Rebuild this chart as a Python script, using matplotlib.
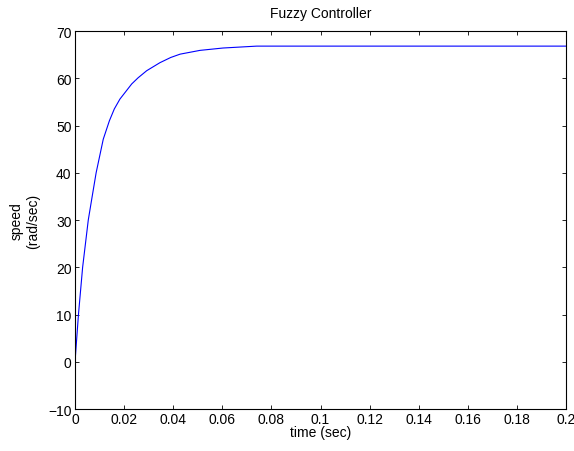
import numpy as np
import matplotlib
matplotlib.use("Agg")
import matplotlib.pyplot as plt

# speed response
time_sec = [0, 0.0014, 0.0031, 0.0054, 0.0068, 0.0086, 0.0095, 0.0115, 0.0140,
            0.0160, 0.0183, 0.0231, 0.0257, 0.0292, 0.0346, 0.0390, 0.0428,
            0.0509, 0.0603, 0.0740, 0.2]
speed = [0, 10, 20, 30, 34.4, 40, 42.2, 47.1, 51.0,
         53.5, 55.6, 58.8, 60.1, 61.6, 63.3, 64.4, 65.1,
         65.9, 66.4, 66.8, 66.8]

x_ticks = np.arange(0, 0.2001, 0.02)
x_labels = ["0", "0.02", "0.04", "0.06", "0.08", "0.1", "0.12", "0.14", "0.16", "0.18", "0.2"]
y_ticks = np.arange(-10, 71, 10)

plt.rcParams['font.family'] = ['Liberation Sans', 'DejaVu Sans']
plt.rcParams['font.size'] = 10

fig = plt.figure(figsize=(5.74, 4.52), dpi=100)
ax = fig.add_axes([0.1307, 0.0929, 0.8554, 0.8363])
ax.plot(time_sec, speed, color=(0, 0, 1), linewidth=0.8)

ax.set_xlim(0, 0.2)
ax.set_ylim(-10, 70)
ax.set_xticks(x_ticks)
ax.set_xticklabels(x_labels)
ax.set_yticks(y_ticks)
ax.tick_params(direction="in", top=True, right=True, length=3, width=0.6,
               labelsize=10, pad=2.5)
for s in ax.spines.values():
    s.set_linewidth(0.8)

ax.set_title("Fuzzy Controller", fontsize=10, pad=10)
ax.set_xlabel("time (sec)", fontsize=10, labelpad=-1)
ax.set_ylabel("speed\n(rad/sec)", fontsize=10, labelpad=6)

fig.savefig("out.png", dpi=100)
